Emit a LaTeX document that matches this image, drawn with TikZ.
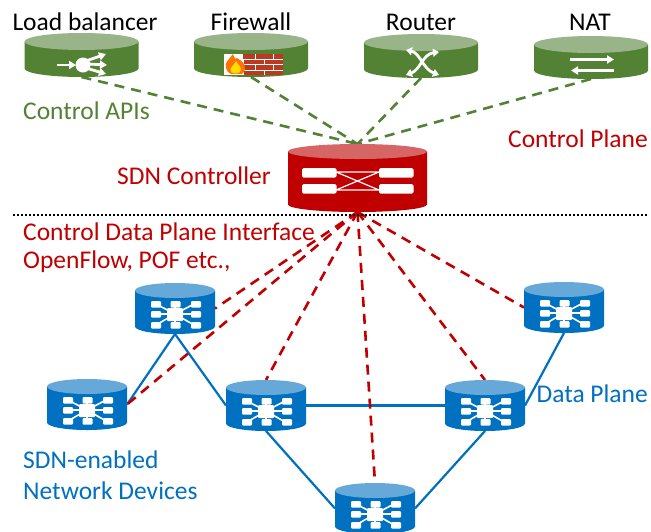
\documentclass[tikz,border=0pt]{standalone}
\usepackage{fontspec}
\setmainfont{Carlito}
\usetikzlibrary{arrows.meta}
\definecolor{gr}{HTML}{548235}\definecolor{grl}{HTML}{98B488}
\definecolor{rd}{HTML}{C00000}\definecolor{rdl}{HTML}{D66666}
\definecolor{bl}{HTML}{0070C0}\definecolor{bll}{HTML}{66A9D9}
\definecolor{brick}{HTML}{B83A20}
\tikzset{
  lbl/.style={font=\fontsize{25.5}{30}\selectfont,inner sep=0pt},
  cyl/.style={inner sep=0pt,outer sep=0pt,rectangle},
  gdash/.style={draw=gr,line width=2.6pt,dash pattern=on 10pt off 7pt},
  rdash/.style={draw=rd,line width=2.6pt,dash pattern=on 10pt off 7pt},
  blink/.style={draw=bl,line width=2.2pt},
  warrow/.style={draw=white,line width=2.8pt,-{Triangle[length=7pt,width=8pt]}},
  warrowb/.style={draw=white,line width=2.8pt,{Triangle[length=6pt,width=8pt]}-{Triangle[length=6pt,width=8pt]}},
  wbox/.style={fill=white,rounded corners=1pt},
}
% name, x0, x1, ytop, ybot, ry, body, lid
\newcommand{\cylnode}[8]{%
  \path[fill=#7] (#2,#4+#6) -- (#2,#5-#6) arc[start angle=180,end angle=360,x radius={(#3-#2)/2},y radius=-#6] -- (#3,#4+#6) -- cycle;
  \path[fill=#8] ({(#2+#3)/2},#4+#6) ellipse[x radius={(#3-#2)/2},y radius=#6];
  \node[cyl,minimum width={(#3-#2)*1pt},minimum height={(#5-#4)*1pt}] (#1) at ({(#2+#3)/2},{(#4+#5)/2}) {};
}
\newcommand{\netcyl}[3]{% name, x0, ytop
  \cylnode{#1}{#2}{#2+80}{#3}{#3+51}{7.5}{bl}{bll}
  \begin{scope}[shift={(#2+40,#3)}]
    \foreach \a/\b in {-19/21,-19/31,-19/42,19/21,19/31,19/42}
      \draw[white,line width=1.6pt] (0,31) -- (\a,\b);
    \draw[white,line width=1.6pt] (0,21) -- (0,42);
    \foreach \a in {-24,-4.5,16} \foreach \b in {18,28,39}
      {\path[wbox] (\a,\b) rectangle (\a+10,\b+6.5);}
    \path[wbox] (-8,25) rectangle (8,38);
  \end{scope}
}
\begin{document}
\begin{tikzpicture}[x=1pt,y=-1pt]
\useasboundingbox (0,0) rectangle (651,531);
\path[fill=white] (0,0) rectangle (651,531);
% nodes placed first so connectors can refer to them
\node[cyl,minimum width=114pt,minimum height=44pt] (lb) at (81.5,55) {};
\node[cyl,minimum width=114pt,minimum height=44pt] (fw) at (251,55) {};
\node[cyl,minimum width=114pt,minimum height=44pt] (rt) at (421,56) {};
\node[cyl,minimum width=114pt,minimum height=43pt] (nt) at (591,57.5) {};
\node[cyl,minimum width=139pt,minimum height=68pt] (ctl) at (357.5,178) {};
\node[cyl,minimum width=80pt,minimum height=51pt] (d1) at (175,308.5) {};
\node[cyl,minimum width=80pt,minimum height=51pt] (d2) at (87,404.5) {};
\node[cyl,minimum width=80pt,minimum height=51pt] (d3) at (266,405.5) {};
\node[cyl,minimum width=80pt,minimum height=51pt] (d4) at (485,405.5) {};
\node[cyl,minimum width=80pt,minimum height=51pt] (d5) at (564,307.5) {};
\node[cyl,minimum width=80pt,minimum height=51pt] (d6) at (375,508.5) {};
% connectors
\draw[gdash] (lb.south) -- (ctl.north);
\draw[gdash] (fw.south) -- (ctl.north);
\draw[gdash] (rt.south) -- (ctl.north);
\draw[gdash] (nt.south) -- (ctl.north);
\draw[blink] (d1.south) -- (d2.east);
\draw[blink] (d1.south) -- (d3.west);
\draw[blink] (d3.east) -- (d4.west);
\draw[blink] (d3.south) -- (d6.west);
\draw[blink] (d4.south) -- (d6.east);
\draw[blink] (d4.east) -- (d5.south);
\draw[rdash] (ctl.south) -- (d1.east);
\draw[rdash] (ctl.south) -- (d2.east);
\draw[rdash] (ctl.south) -- (d3.north);
\draw[rdash] (ctl.south) -- (d6.north);
\draw[rdash] (ctl.south) -- (d4.north);
\draw[rdash] (ctl.south) -- (d5.west);
% green cylinders
\cylnode{lb}{24.5}{138.5}{33}{77}{8.5}{gr}{grl}
\cylnode{fw}{194}{308}{33}{77}{8.5}{gr}{grl}
\cylnode{rt}{364}{478}{34}{78}{8.5}{gr}{grl}
\cylnode{nt}{534}{648}{36}{79}{8.5}{gr}{grl}
% load balancer icon
\draw[warrow] (57,65) -- (76,65);
\path[fill=white] (83,65) circle (7.5);
\draw[warrow] (86,61) -- (106,54);
\draw[warrow] (88,64) -- (107,65);
\draw[warrow] (86,68) -- (106,74);
% firewall icon
\path[fill=white] (224,54) rectangle (283,75);
\path[fill=brick] (243,54) rectangle (283,75);
\foreach \y in {59,64.5,70} \draw[white,line width=.9pt] (236,\y) -- (283,\y);
\foreach \x in {255,273} \draw[white,line width=.9pt] (\x,54) -- (\x,59) (\x,64.5) -- (\x,70);
\foreach \x in {243,264} \draw[white,line width=.9pt] (\x,59) -- (\x,64.5) (\x,70) -- (\x,75);
\path[fill=orange!90!red] (226,68) .. controls (224,62) and (229,60) .. (233,54) .. controls (234,58) and (236,60) .. (237,58) .. controls (243,61) and (249,68) .. (242,74) -- (231,74) .. controls (228,73) and (227,71) .. (226,68) -- cycle;
\path[fill=yellow!80!orange] (231,72) .. controls (229,67) and (234,66) .. (236,61) .. controls (238,65) and (243,68) .. (240,72) .. controls (238,74) and (233,74) .. (231,72) -- cycle;
% router icon
\draw[warrowb] (406,50) .. controls (420,53) and (423,69) .. (439,75);
\draw[warrowb] (406,75) .. controls (420,70) and (423,54) .. (439,52);
% NAT icon
\draw[warrow] (570,59.5) -- (614,59.5);
\draw[warrow] (614,70.5) -- (571,70.5);
% controller
\cylnode{ctl}{288}{427}{144}{212}{7.5}{rd}{rdl}
\foreach \x/\y in {302/168,302/184,379/168,379/184}
  \path[fill=white,rounded corners=1.5pt] (\x,\y) rectangle (\x+34.5,\y+9.5);
\draw[white,line width=1.2pt] (336,172) -- (379,172) (336,190) -- (379,190) (336,172) -- (379,190) (336,190) -- (379,172);
% network devices
\netcyl{d1}{135}{283}
\netcyl{d2}{47}{379}
\netcyl{d3}{226}{380}
\netcyl{d4}{445}{380}
\netcyl{d5}{524}{282}
\netcyl{d6}{335}{483}
% dotted separator
\coordinate (sepL) at (13,214.5);
\coordinate (sepR) at (648,214.5);
\draw[black,line width=2pt,dash pattern=on 2pt off 2pt] (sepL) -- (sepR);
% labels
\node[lbl] (t1) at (85,22) {Load balancer};
\node[lbl] (t2) at (251,22) {Firewall};
\node[lbl] (t3) at (421,22) {Router};
\node[lbl] (t4) at (590,22) {NAT};
\node[lbl,text=gr,anchor=west] (t5) at (23,111) {Control APIs};
\node[lbl,text=rd,anchor=east] (t6) at (648,139) {Control Plane};
\node[lbl,text=rd,anchor=east] (t7) at (271,176) {SDN Controller};
\node[lbl,text=rd,anchor=west] (t8) at (23,232) {Control Data Plane Interface};
\node[lbl,text=rd,anchor=west] (t9) at (23,262) {OpenFlow, POF etc.,};
\node[lbl,text=bl,anchor=east] (t10) at (648,394) {Data Plane};
\node[lbl,text=bl,anchor=west] (t11) at (23,460) {SDN-enabled};
\node[lbl,text=bl,anchor=west] (t12) at (23,491) {Network Devices};
\end{tikzpicture}
\end{document}
